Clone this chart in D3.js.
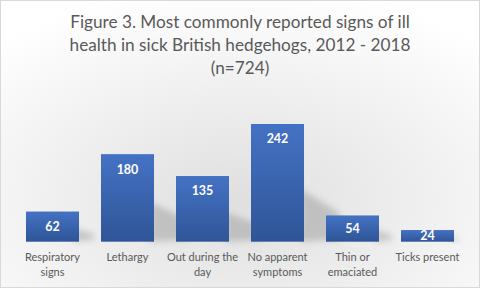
<!DOCTYPE html>
<html>
<head>
<meta charset="utf-8">
<script src="https://cdn.jsdelivr.net/npm/d3@7"></script>
<style>
  html, body { margin: 0; padding: 0; background: #fff; }
  svg { display: block; }
</style>
</head>
<body>
<svg id="chart" width="480" height="288"></svg>
<script>
const titleLines = ['Figure 3. Most commonly reported signs of ill', 'health in sick British hedgehogs, 2012 - 2018', '(n=724)'];
const categories = ['Respiratory signs', 'Lethargy', 'Out during the day', 'No apparent symptoms', 'Thin or emaciated', 'Ticks present'];
const categoryLines = [['Respiratory', 'signs'], ['Lethargy'], ['Out during the', 'day'], ['No apparent', 'symptoms'], ['Thin or', 'emaciated'], ['Ticks present']];
const values = [62, 180, 135, 242, 54, 24];

const W = 480, H = 288;
const baseY = 241.7;
const FONT = 'Lato, "Open Sans", sans-serif';

const svg = d3.select('#chart');
const defs = svg.append('defs');

// background gradient
const bg = defs.append('radialGradient').attr('id', 'bg')
    .attr('cx', '50%').attr('cy', '70%').attr('r', '75%');
bg.append('stop').attr('offset', '0%').attr('stop-color', '#dfdfdf');
bg.append('stop').attr('offset', '100%').attr('stop-color', '#ffffff');

const barGrad = defs.append('linearGradient').attr('id', 'barGrad')
    .attr('x1', 0).attr('y1', 0).attr('x2', 0).attr('y2', 1);
barGrad.append('stop').attr('offset', '0%').attr('stop-color', '#4472c4');
barGrad.append('stop').attr('offset', '100%').attr('stop-color', '#2f5597');

defs.append('filter').attr('id', 'blur').attr('x', '-50%').attr('y', '-50%').attr('width', '200%').attr('height', '200%')
    .append('feGaussianBlur').attr('stdDeviation', 3);

svg.append('rect').attr('x', 0.5).attr('y', 0.5).attr('width', W - 1).attr('height', H - 1)
    .attr('fill', 'url(#bg)').attr('stroke', '#d9d9d9');

// title
const title = svg.append('g').attr('font-family', FONT).attr('fill', '#595959').attr('text-anchor', 'middle');
const titleText = title.selectAll('text').data(titleLines).enter().append('text')
    .attr('x', W / 2)
    .attr('y', (d, i) => 28 + i * 23)
    .attr('font-size', '18px')
    .text(d => d);
// fit first line to the reference width (~340px)
const w0 = titleText.node().getComputedTextLength();
titleText.attr('font-size', (18 * 340 / w0).toFixed(2) + 'px');

// scales
const x = d3.scaleBand().domain(categories).range([15, 465]).paddingInner(0.293).paddingOuter(0.1465);
const y = d3.scaleLinear().domain([0, 242]).range([baseY, 124]);

// shadows
svg.append('g').selectAll('path').data(values).enter().append('path')
    .attr('d', (d, i) => {
        const x0 = x(categories[i]) + x.bandwidth();
        const top = y(d);
        const h = baseY - top;
        const dx = Math.min(h * 0.5, 35);
        return `M${x0 - 4},${baseY} L${x0 - 4},${top + h * 0.55} L${x0 + dx},${top + h * 0.75} L${x0 + dx},${baseY - 2} Z`;
    })
    .attr('fill', '#8a8a8a')
    .attr('opacity', 0.4)
    .attr('filter', 'url(#blur)');

// bars
svg.append('g').selectAll('rect').data(values).enter().append('rect')
    .attr('x', (d, i) => x(categories[i]))
    .attr('y', d => y(d))
    .attr('width', x.bandwidth())
    .attr('height', d => baseY - y(d))
    .attr('fill', 'url(#barGrad)');

// value labels
svg.append('g').selectAll('text').data(values).enter().append('text')
    .attr('x', (d, i) => x(categories[i]) + x.bandwidth() / 2)
    .attr('y', d => Math.min(y(d) + 15, (y(d) + baseY) / 2))
    .attr('dy', '0.35em')
    .attr('text-anchor', 'middle')
    .attr('font-family', FONT)
    .attr('font-weight', 'bold')
    .attr('font-size', '12.5px')
    .attr('fill', '#ffffff')
    .text(d => d);

// category labels
const cat = svg.append('g').attr('font-family', FONT).attr('font-size', '11px').attr('fill', '#595959');
categoryLines.forEach((lines, i) => {
    const t = cat.append('text').attr('text-anchor', 'middle');
    lines.forEach((l, j) => {
        t.append('tspan')
            .attr('x', x(categories[i]) + x.bandwidth() / 2)
            .attr('y', 256.7 + j * 15.6)
            .attr('dy', '0.35em')
            .text(l);
    });
});
</script>
</body>
</html>
